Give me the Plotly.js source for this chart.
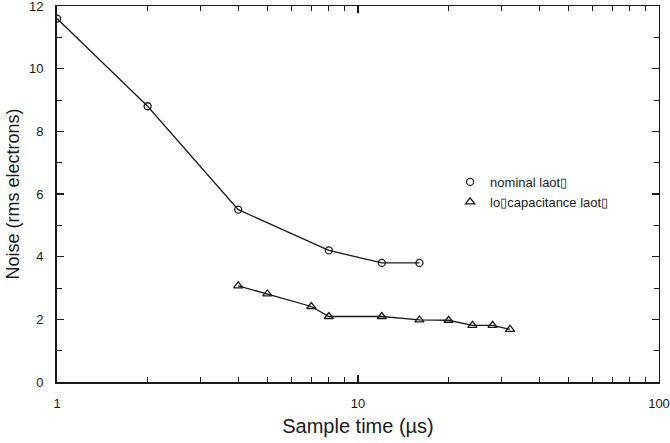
<!DOCTYPE html>
<html><head><meta charset="utf-8">
<script src="https://cdn.plot.ly/plotly-3.0.1.min.js"></script>
<style>html,body{margin:0;padding:0;background:#fff}#chart{width:670px;height:443px}</style>
</head><body><div id="chart"></div>
<script>
const nominalTime = [1, 2, 4, 8, 12, 16];
const nominalNoise = [11.6, 8.8, 5.5, 4.2, 3.8, 3.8];
const lowCapTime = [4, 5, 7, 8, 12, 16, 20, 24, 28, 32];
const lowCapNoise = [3.07, 2.81, 2.41, 2.09, 2.09, 1.98, 1.97, 1.81, 1.81, 1.68];
const seriesNames = ['nominal laot\u25AF', 'lo\u25AFcapacitance laot\u25AF'];
const xTickVals = [1, 10, 100];
const xTickText = ['1', '10', '100'];
const xMinorVals = [2, 3, 4, 5, 6, 7, 8, 9, 20, 30, 40, 50, 60, 70, 80, 90];
const yTickVals = [0, 2, 4, 6, 8, 10, 12];
const yMinorVals = [1, 3, 5, 7, 9, 11];

const FONT = 'Liberation Sans, Arial, sans-serif';
const INK = '#1a1a1a';

const traces = [
  {x: nominalTime, y: nominalNoise, mode: 'lines+markers', showlegend: false,
   line: {color: INK, width: 1.3},
   marker: {symbol: 'circle-open', size: 7, color: INK, line: {width: 1.3, color: INK}}},
  {x: lowCapTime, y: lowCapNoise, mode: 'lines+markers', showlegend: false,
   line: {color: INK, width: 1.3},
   marker: {symbol: 'triangle-up-open', size: 8, color: INK, line: {width: 1.3, color: INK}}},
  {x: [null], y: [null], mode: 'markers', name: seriesNames[0],
   marker: {symbol: 'circle-open', size: 7, color: INK, line: {width: 1.3, color: INK}}},
  {x: [null], y: [null], mode: 'markers', name: seriesNames[1],
   marker: {symbol: 'triangle-up-open', size: 8, color: INK, line: {width: 1.3, color: INK}}},
  {x: [], y: [], xaxis: 'x2', yaxis: 'y2', showlegend: false, mode: 'markers'}
];

const layout = {
  width: 670, height: 443,
  margin: {l: 57, r: 11, t: 6, b: 61},
  paper_bgcolor: '#fff', plot_bgcolor: '#fff',
  font: {family: FONT, color: INK, size: 13},
  showlegend: true,
  legend: {x: 0.653, y: 0.572, xanchor: 'left', yanchor: 'top',
           bgcolor: 'rgba(0,0,0,0)', font: {size: 13, family: FONT, color: INK},
           itemwidth: 30, tracegroupgap: 0},
  xaxis: {type: 'log', range: [0, 2], showgrid: false, zeroline: false,
          showline: true, linecolor: INK, linewidth: 2,
          ticks: 'inside', ticklen: 7, tickwidth: 1.3, tickcolor: INK,
          tickmode: 'array', tickvals: xTickVals, ticktext: xTickText,
          tickfont: {size: 13}, ticklabelstandoff: 8, ticklabeloverflow: 'allow',
          minor: {ticks: 'inside', ticklen: 5, tickwidth: 1, tickcolor: INK, tickvals: xMinorVals, showgrid: false},
          title: {text: 'Sample time (\u00B5s)', font: {size: 20}, standoff: 9}},
  yaxis: {range: [0, 12], showgrid: false, zeroline: false,
          showline: true, linecolor: INK, linewidth: 2,
          ticks: 'inside', ticklen: 7, tickwidth: 1.3, tickcolor: INK,
          tickmode: 'array', tickvals: yTickVals,
          tickfont: {size: 13}, ticklabelstandoff: 9, ticklabeloverflow: 'allow',
          minor: {ticks: 'inside', ticklen: 5, tickwidth: 1, tickcolor: INK, tickvals: yMinorVals, showgrid: false},
          title: {text: 'Noise (rms electrons)', font: {size: 18}, standoff: 5}},
  xaxis2: {type: 'log', range: [0, 2], overlaying: 'x', side: 'top', anchor: 'y2',
           showgrid: false, zeroline: false, showline: true, linecolor: INK, linewidth: 1,
           ticks: 'inside', ticklen: 7, tickwidth: 1.3, tickcolor: INK,
           tickmode: 'array', tickvals: xTickVals, showticklabels: false,
           minor: {ticks: 'inside', ticklen: 5, tickwidth: 1, tickcolor: INK, tickvals: xMinorVals, showgrid: false}},
  yaxis2: {range: [0, 12], overlaying: 'y', side: 'right', anchor: 'x2',
           showgrid: false, zeroline: false, showline: true, linecolor: INK, linewidth: 1,
           ticks: 'inside', ticklen: 7, tickwidth: 1.3, tickcolor: INK,
           tickmode: 'array', tickvals: yTickVals, showticklabels: false,
           minor: {ticks: 'inside', ticklen: 5, tickwidth: 1, tickcolor: INK, tickvals: yMinorVals, showgrid: false}}
};

Plotly.newPlot('chart', traces, layout, {displayModeBar: false, staticPlot: true});
</script>
</body></html>
